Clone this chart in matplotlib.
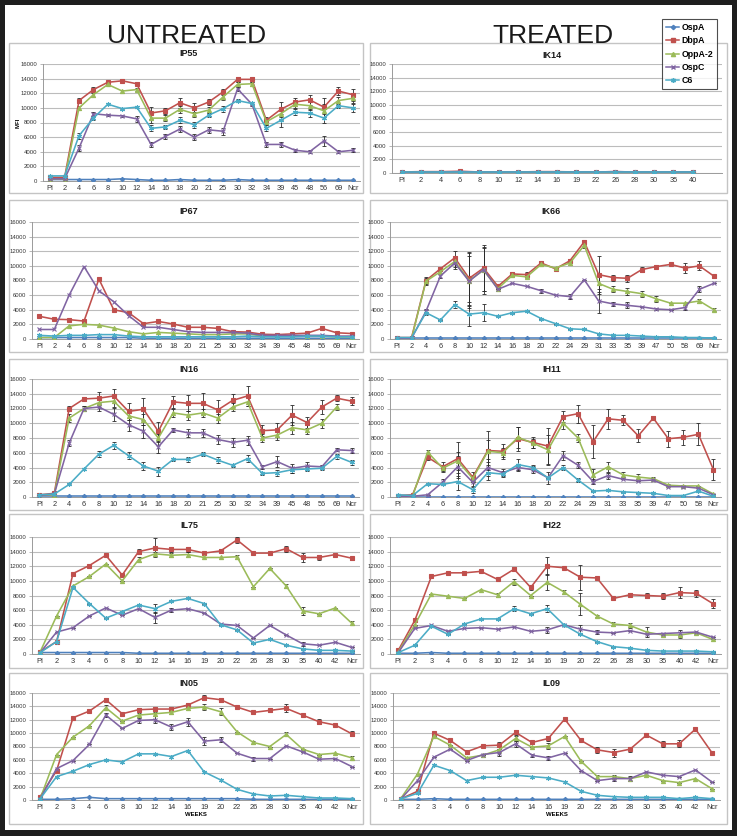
import numpy as np
import matplotlib
matplotlib.use("Agg")
import matplotlib.pyplot as plt
from matplotlib.patches import Rectangle
from matplotlib.lines import Line2D

plt.rcParams['font.family'] = ['Liberation Sans', 'DejaVu Sans']

SERIES = ["OspA", "DbpA", "OppA-2", "OspC", "C6"]
COLORS = ["#4F81BD", "#C0504D", "#9BBB59", "#8064A2", "#4BACC6"]

# ---------------- categories ----------------
weeks_A = ["PI", "2", "4", "6", "8", "10", "12", "14", "16", "18", "20", "21", "25", "30", "32", "34", "39", "45", "48", "56", "69", "Ncr"]
weeks_K14 = ["PI", "2", "4", "6", "8", "10", "12", "14", "16", "19", "22", "26", "28", "30", "35", "40"]
weeks_K66 = ["PI", "2", "4", "6", "8", "10", "12", "14", "16", "18", "20", "22", "24", "29", "31", "33", "35", "39", "47", "50", "58", "69", "Ncr"]
weeks_H11 = ["PI", "2", "4", "6", "8", "10", "12", "14", "16", "18", "20", "22", "24", "29", "31", "33", "35", "39", "47", "50", "58", "Ncr"]
weeks_B = ["PI", "2", "3", "4", "6", "8", "10", "12", "14", "16", "19", "20", "22", "26", "28", "30", "35", "40", "42", "Ncr"]

nan = np.nan

# ---------------- IP55 ----------------
IP55_OspA = [200, 200, 200, 200, 200, 300, 200, 100, 100, 200, 100, 100, 100, 200, 100, 100, 100, 100, 100, 100, 100, 100]
IP55_DbpA = [500, 500, 11000, 12500, 13500, 13700, 13300, 9300, 9600, 10700, 10000, 10800, 12200, 13900, 13900, 8300, 9800, 10800, 11100, 10100, 12300, 11800]
IP55_OppA = [300, 300, 10000, 11800, 13200, 12300, 12500, 8600, 8600, 9800, 9200, 9700, 11500, 13200, 13300, 8100, 9200, 10500, 10300, 9600, 11000, 11300]
IP55_OspC = [300, 300, 4500, 9200, 9000, 8900, 8500, 5000, 6100, 7100, 6000, 7000, 6800, 12600, 10500, 5000, 5000, 4200, 4000, 5500, 4000, 4200]
IP55_C6 = [700, 700, 6200, 8600, 10500, 9900, 10100, 7200, 7400, 8300, 7700, 9000, 9900, 11000, 10600, 7200, 8300, 9400, 9300, 8600, 10300, 10000]
IP55_DbpA_err = [100, 100, 300, 300, 200, 200, 200, 800, 400, 700, 600, 400, 400, 300, 300, 500, 1000, 500, 700, 1300, 500, 800]
IP55_OppA_err = [0, 0, 300, 300, 200, 200, 200, 600, 400, 500, 500, 400, 400, 300, 300, 400, 800, 500, 600, 900, 500, 700]
IP55_OspC_err = [0, 0, 400, 300, 100, 100, 400, 400, 300, 400, 400, 400, 500, 300, 300, 400, 400, 200, 200, 700, 200, 300]
IP55_C6_err = [100, 100, 400, 300, 100, 100, 100, 400, 300, 400, 400, 300, 400, 200, 200, 400, 900, 400, 500, 600, 300, 500]

# ---------------- IP67 ----------------
IP67_OspA = [200, 200, 200, 200, 200, 200, 200, 100, 100, 100, 100, 100, 100, 100, 100, 100, 100, 100, 100, 100, 100, 100]
IP67_DbpA = [3100, 2700, 2650, 2450, 8200, 4000, 3600, 2100, 2400, 2050, 1600, 1600, 1450, 1000, 950, 650, 600, 700, 800, 1450, 850, 750]
IP67_OppA = [200, 200, 1800, 2000, 1900, 1500, 1000, 700, 900, 800, 700, 600, 600, 700, 700, 400, 400, 400, 400, 400, 300, 300]
IP67_OspC = [1300, 1300, 6000, 9900, 6600, 5100, 3200, 1600, 1600, 1300, 1000, 900, 900, 900, 800, 500, 500, 500, 500, 500, 400, 400]
IP67_C6 = [500, 400, 500, 500, 600, 600, 400, 300, 300, 300, 300, 300, 300, 300, 400, 300, 300, 300, 400, 400, 300, 300]

# ---------------- IN16 ----------------
IN16_OspA = [100, 100, 100, 100, 100, 100, 100, 100, 100, 100, 100, 100, 100, 100, 100, 100, 100, 100, 100, 100, 100, 100]
IN16_DbpA = [300, 500, 12000, 13300, 13400, 13700, 11600, 11900, 8900, 12900, 12700, 12700, 11800, 13100, 13700, 9000, 9100, 11100, 10100, 12200, 13400, 13000]
IN16_OppA = [200, 300, 10700, 12000, 12800, 13000, 11000, 10500, 8000, 11400, 11100, 11400, 10700, 12200, 12900, 8000, 8400, 9400, 9100, 10000, 12200, nan]
IN16_OspC = [200, 400, 7300, 12000, 12200, 11200, 9800, 8900, 6800, 9100, 8700, 8700, 7800, 7400, 7700, 4100, 4800, 3900, 4200, 4100, 6400, 6300]
IN16_C6 = [300, 400, 1700, 3800, 5800, 7000, 5600, 4200, 3500, 5100, 5100, 5800, 5000, 4300, 5200, 3200, 3300, 3700, 3800, 3900, 5500, 4700]
IN16_DbpA_err = [100, 100, 300, 300, 800, 900, 1100, 1500, 1300, 800, 1100, 1400, 1300, 900, 1300, 700, 900, 1400, 700, 900, 400, 500]
IN16_OppA_err = [0, 0, 500, 400, 600, 800, 600, 700, 600, 600, 600, 600, 600, 600, 600, 500, 700, 800, 600, 600, 400, 0]
IN16_OspC_err = [0, 100, 400, 400, 500, 900, 900, 900, 900, 300, 500, 500, 600, 600, 600, 300, 700, 600, 600, 300, 200, 400]
IN16_C6_err = [0, 0, 100, 200, 400, 500, 500, 500, 600, 200, 300, 300, 400, 200, 500, 200, 400, 400, 300, 300, 300, 300]

# ---------------- IL75 ----------------
IL75_OspA = [200, 200, 200, 200, 200, 200, 100, 100, 100, 100, 100, 100, 100, 100, 100, 100, 100, 100, 100, 100]
IL75_DbpA = [300, 1700, 11000, 12100, 13500, 10800, 14000, 14500, 14300, 14300, 13800, 14100, 15600, 13800, 13800, 14400, 13200, 13200, 13600, 13100]
IL75_OppA = [300, 5200, 9300, 10600, 12300, 10000, 12900, 13700, 13500, 13600, 13200, 13200, 13300, 9200, 11700, 9300, 5900, 5500, 6300, 4200]
IL75_OspC = [200, 3000, 3600, 5200, 6300, 5300, 6200, 5000, 6000, 6200, 5600, 4100, 3900, 2200, 3900, 2600, 1400, 1200, 1600, 900]
IL75_C6 = [200, 1700, 9100, 6900, 4900, 5800, 6700, 6200, 7200, 7600, 6900, 4000, 3300, 1500, 2000, 1200, 700, 500, 500, 400]
IL75_DbpA_err = [0, 0, 0, 0, 0, 0, 300, 1300, 400, 300, 0, 200, 400, 0, 0, 400, 600, 400, 0, 200]
IL75_OppA_err = [0, 0, 0, 0, 0, 0, 300, 300, 300, 300, 0, 0, 300, 0, 0, 300, 500, 0, 0, 300]
IL75_OspC_err = [0, 0, 0, 0, 0, 0, 0, 800, 300, 0, 0, 0, 0, 0, 0, 0, 300, 0, 0, 0]
IL75_C6_err = [0, 0, 0, 0, 0, 0, 0, 600, 0, 0, 0, 0, 0, 0, 0, 0, 0, 0, 0, 0]

# ---------------- IN05 ----------------
IN05_OspA = [100, 100, 200, 400, 200, 200, 200, 200, 200, 200, 200, 200, 200, 100, 100, 100, 100, 100, 100, 100]
IN05_DbpA = [500, 4400, 12300, 13300, 15000, 12900, 13500, 13600, 13600, 14200, 15300, 15000, 13900, 13100, 13400, 13700, 12700, 11700, 11200, 9900]
IN05_OppA = [200, 6800, 9400, 11100, 13800, 11800, 12700, 12900, 13100, 13700, 13900, 13200, 10200, 8600, 8000, 9800, 7600, 6800, 7000, 6300]
IN05_OspC = [200, 4700, 5900, 8300, 12700, 10700, 11900, 12000, 10900, 11700, 8800, 9000, 7000, 6200, 6200, 8100, 7200, 6100, 6200, 5000]
IN05_C6 = [200, 3500, 4300, 5300, 6000, 5700, 6900, 6900, 6500, 7400, 4200, 3000, 1600, 900, 600, 700, 500, 300, 300, 200]
IN05_DbpA_err = [0, 0, 0, 0, 300, 0, 200, 300, 300, 300, 400, 300, 200, 0, 200, 600, 0, 400, 0, 400]
IN05_OppA_err = [0, 0, 0, 0, 400, 0, 300, 300, 300, 300, 400, 500, 0, 200, 0, 300, 0, 0, 0, 300]
IN05_OspC_err = [0, 0, 0, 0, 300, 0, 400, 500, 500, 600, 600, 400, 0, 300, 0, 0, 0, 0, 0, 0]

# ---------------- IK14 ----------------
IK14_OspA = [100, 100, 100, 100, 100, 100, 100, 100, 100, 100, 100, 100, 100, 100, 100, 100]
IK14_DbpA = [150, 200, 200, 250, 150, 150, 150, 200, 200, 150, 150, 200, 150, 150, 150, 150]
IK14_OppA = [100, 150, 150, 150, 100, 100, 100, 150, 150, 100, 100, 150, 100, 100, 100, 100]
IK14_OspC = [100, 150, 150, 200, 150, 150, 150, 150, 150, 150, 150, 200, 150, 150, 150, 150]
IK14_C6 = [100, 100, 100, 100, 100, 100, 100, 100, 100, 100, 100, 100, 100, 100, 100, 100]

# ---------------- IK66 ----------------
IK66_OspA = [100, 100, 100, 100, 100, 100, 100, 100, 100, 100, 100, 100, 100, 100, 100, 100, 100, 100, 100, 100, 100, 100, 100]
IK66_DbpA = [200, 200, 8000, 9600, 11100, 8300, 9700, 7200, 8900, 8800, 10400, 9600, 10700, 13300, 8800, 8400, 8300, 9500, 9900, 10200, 9700, 10000, 8600]
IK66_OppA = [100, 100, 7900, 9200, 10600, 8000, 9400, 6900, 8700, 8500, 10200, 9700, 10400, 12800, 7600, 6800, 6500, 6200, 5500, 4900, 4900, 5200, 4000]
IK66_OspC = [100, 100, 3800, 8600, 10400, 7900, 9500, 6800, 7600, 7200, 6600, 6000, 5800, 8100, 5200, 4800, 4600, 4400, 4100, 4000, 4300, 6800, 7600]
IK66_C6 = [200, 200, 3600, 2600, 4700, 3400, 3600, 3100, 3600, 3800, 2800, 2100, 1400, 1300, 700, 500, 500, 400, 300, 300, 200, 200, 100]
IK66_DbpA_err = [0, 0, 500, 300, 900, 3600, 3100, 300, 200, 300, 200, 200, 300, 300, 2600, 400, 500, 300, 200, 0, 700, 600, 200]
IK66_OppA_err = [0, 0, 500, 300, 800, 3700, 3200, 300, 200, 200, 200, 200, 300, 300, 1200, 400, 500, 400, 400, 0, 0, 300, 200]
IK66_OspC_err = [0, 0, 300, 300, 800, 3400, 3000, 0, 0, 0, 300, 0, 300, 0, 1600, 300, 400, 0, 200, 0, 300, 400, 0]
IK66_C6_err = [0, 0, 300, 0, 500, 1600, 1200, 0, 0, 0, 0, 0, 0, 0, 0, 0, 0, 0, 0, 0, 0, 0, 0]

# ---------------- IH11 ----------------
IH11_OspA = [50, 50, 50, 50, 50, 50, 50, 50, 50, 50, 50, 50, 50, 50, 50, 50, 50, 50, 50, 50, 50, 50]
IH11_DbpA = [200, 300, 5400, 4100, 5200, 2700, 6300, 6200, 7900, 7400, 6900, 10900, 11300, 7500, 10600, 10400, 8300, 10700, 7900, 8100, 8500, 3700]
IH11_OppA = [100, 100, 6100, 3900, 4900, 2500, 6200, 6000, 8100, 7300, 6400, 10000, 8000, 3000, 4100, 3000, 2700, 2500, 1600, 1500, 1500, 400]
IH11_OspC = [100, 100, 300, 2000, 4100, 2000, 4000, 3300, 4000, 3700, 2600, 5600, 4300, 2100, 2900, 2400, 2200, 2300, 1400, 1400, 1200, 300]
IH11_C6 = [300, 200, 1800, 1700, 2100, 1000, 3300, 3100, 4400, 4000, 2600, 4000, 2300, 800, 900, 700, 600, 500, 200, 200, 800, 100]
IH11_DbpA_err = [0, 100, 400, 600, 2300, 700, 2600, 1000, 1600, 700, 2400, 700, 1200, 2200, 1400, 700, 900, 300, 1100, 1000, 1500, 1400]
IH11_OppA_err = [0, 0, 300, 500, 1200, 500, 1500, 600, 1400, 600, 2000, 800, 600, 800, 700, 400, 400, 200, 200, 0, 0, 0]
IH11_OspC_err = [0, 0, 0, 400, 1500, 500, 1200, 500, 500, 500, 800, 600, 400, 300, 400, 0, 0, 0, 0, 0, 0, 0]
IH11_C6_err = [0, 0, 0, 0, 1100, 400, 1000, 400, 800, 400, 0, 400, 300, 0, 0, 0, 0, 0, 0, 0, 0, 0]

# ---------------- IH22 ----------------
IH22_OspA = [100, 100, 200, 100, 100, 100, 100, 100, 100, 100, 100, 100, 100, 100, 100, 100, 100, 100, 100, 100]
IH22_DbpA = [500, 4600, 10600, 11100, 11100, 11300, 10200, 11600, 9100, 12000, 11800, 10500, 10400, 7600, 8100, 8000, 7900, 8400, 8300, 6900]
IH22_OppA = [300, 4000, 8200, 7900, 7600, 8800, 8100, 9900, 8000, 9800, 8500, 6800, 5200, 4100, 3900, 3000, 2600, 2600, 2900, 2000]
IH22_OspC = [200, 3500, 3900, 3100, 3500, 3600, 3400, 3700, 3100, 3300, 4000, 3400, 3000, 2900, 3200, 2700, 2800, 2900, 3000, 2300]
IH22_C6 = [200, 1200, 3800, 2700, 4100, 4800, 4800, 6200, 5500, 6200, 4000, 2700, 1700, 1000, 800, 500, 400, 400, 400, 300]
IH22_DbpA_err = [0, 0, 0, 0, 0, 0, 0, 300, 300, 1200, 0, 1700, 0, 0, 200, 400, 400, 800, 500, 600]
IH22_OppA_err = [0, 0, 0, 0, 0, 0, 300, 400, 0, 1100, 300, 1500, 200, 300, 300, 700, 0, 400, 0, 0]
IH22_OspC_err = [0, 0, 0, 0, 0, 0, 0, 0, 0, 400, 0, 500, 300, 0, 0, 0, 0, 400, 0, 0]
IH22_C6_err = [0, 0, 0, 0, 0, 0, 0, 300, 0, 500, 0, 0, 0, 0, 0, 0, 0, 0, 0, 0]

# ---------------- IL09 ----------------
IL09_OspA = [100, 100, 200, 100, 100, 100, 100, 100, 100, 100, 100, 100, 100, 100, 100, 100, 100, 100, 100, 100]
IL09_DbpA = [200, 1300, 10000, 8900, 7200, 8100, 8200, 10100, 8600, 9200, 12100, 8900, 7500, 7100, 7600, 9700, 8400, 8400, 10600, 7100]
IL09_OppA = [300, 3900, 9500, 8200, 6300, 6700, 7500, 9200, 7900, 8100, 9500, 5800, 3500, 3500, 3200, 3700, 2900, 2600, 3200, 1700]
IL09_OspC = [200, 2900, 6400, 7600, 5900, 6800, 7100, 8400, 6700, 6300, 7000, 4400, 2900, 3200, 3200, 4200, 3700, 3500, 4500, 2700]
IL09_C6 = [200, 1000, 5200, 4400, 2900, 3400, 3400, 3700, 3500, 3300, 2700, 1300, 700, 500, 400, 400, 400, 200, 400, 200]
IL09_DbpA_err = [0, 0, 0, 0, 0, 0, 500, 400, 200, 400, 0, 0, 400, 600, 400, 300, 400, 500, 0, 0]
IL09_OppA_err = [0, 0, 0, 0, 0, 0, 400, 400, 0, 400, 0, 0, 300, 300, 300, 0, 0, 0, 0, 0]
IL09_OspC_err = [0, 0, 0, 0, 0, 0, 500, 400, 200, 300, 0, 0, 0, 400, 400, 0, 0, 0, 0, 0]

W, H = 737, 836
fig = plt.figure(figsize=(W / 100, H / 100), dpi=100)
fig.patch.set_facecolor("white")


def fx(x):
    return x / W


def fy(y):
    return 1 - y / H


# outer dark frame
for (x0, y0, w, h) in [(0, 0, W, 5), (0, H - 6, W, 6), (0, 0, 5, H), (W - 5, 0, 5, H)]:
    fig.patches.append(Rectangle((fx(x0), fy(y0 + h)), w / W, h / H, transform=fig.transFigure,
                                 facecolor="#1e1e1e", edgecolor="none", zorder=0))

fig.text(fx(187), fy(36), "UNTREATED", ha="center", va="center", fontsize=19, color="#1a1a1a")
fig.text(fx(553), fy(36), "TREATED", ha="center", va="center", fontsize=19, color="#1a1a1a")

# panel spec: name, categories, series, errors, box(x0,x1,y0,y1), plot(l,r,top,bottom), title_y, nslots, mfi, weeks
panels = [
    ("IP55", weeks_A, [IP55_OspA, IP55_DbpA, IP55_OppA, IP55_OspC, IP55_C6],
     [None, IP55_DbpA_err, IP55_OppA_err, IP55_OspC_err, IP55_C6_err],
     (9, 363, 43, 193), (43, 360, 64, 181), 54, None, True, False),
    ("IP67", weeks_A, [IP67_OspA, IP67_DbpA, IP67_OppA, IP67_OspC, IP67_C6],
     [None] * 5, (9, 363, 200, 352), (32, 359, 222, 339), 211, None, False, False),
    ("IN16", weeks_A, [IN16_OspA, IN16_DbpA, IN16_OppA, IN16_OspC, IN16_C6],
     [None, IN16_DbpA_err, IN16_OppA_err, IN16_OspC_err, IN16_C6_err],
     (9, 363, 359, 510), (32, 359, 379, 497), 369, None, False, False),
    ("IL75", weeks_B, [IL75_OspA, IL75_DbpA, IL75_OppA, IL75_OspC, IL75_C6],
     [None, IL75_DbpA_err, IL75_OppA_err, IL75_OspC_err, IL75_C6_err],
     (9, 363, 514, 668), (32, 360, 537, 654), 526, None, False, False),
    ("IN05", weeks_B, [IN05_OspA, IN05_DbpA, IN05_OppA, IN05_OspC, IN05_C6],
     [None, IN05_DbpA_err, IN05_OppA_err, IN05_OspC_err, None],
     (9, 363, 673, 824), (32, 360, 693, 800), 683, None, False, True),
    ("IK14", weeks_K14, [IK14_OspA, IK14_DbpA, IK14_OppA, IK14_OspC, IK14_C6],
     [None] * 5, (370, 727, 43, 193), (392, 722, 64, 173), 55, 17, False, False),
    ("IK66", weeks_K66, [IK66_OspA, IK66_DbpA, IK66_OppA, IK66_OspC, IK66_C6],
     [None, IK66_DbpA_err, IK66_OppA_err, IK66_OspC_err, IK66_C6_err],
     (370, 727, 200, 352), (390, 721, 222, 339), 211, None, False, False),
    ("IH11", weeks_H11, [IH11_OspA, IH11_DbpA, IH11_OppA, IH11_OspC, IH11_C6],
     [None, IH11_DbpA_err, IH11_OppA_err, IH11_OspC_err, IH11_C6_err],
     (370, 727, 359, 510), (390, 721, 379, 497), 369, None, False, False),
    ("IH22", weeks_B, [IH22_OspA, IH22_DbpA, IH22_OppA, IH22_OspC, IH22_C6],
     [None, IH22_DbpA_err, IH22_OppA_err, IH22_OspC_err, IH22_C6_err],
     (370, 727, 514, 668), (390, 721, 537, 654), 526, None, False, False),
    ("IL09", weeks_B, [IL09_OspA, IL09_DbpA, IL09_OppA, IL09_OspC, IL09_C6],
     [None, IL09_DbpA_err, IL09_OppA_err, IL09_OspC_err, None],
     (370, 727, 673, 824), (393, 720, 693, 800), 683, None, False, True),
]

MARKERS = ["D", "s", "^", "x", (6, 2, 0)]
MSIZES = [2.2, 2.8, 3.0, 3.2, 3.6]

for (name, cats, data, errs, box, plot, ty, nslots, mfi, weeks) in panels:
    bx0, bx1, by0, by1 = box
    fig.patches.append(Rectangle((fx(bx0), fy(by1)), (bx1 - bx0) / W, (by1 - by0) / H,
                                 transform=fig.transFigure, facecolor="white",
                                 edgecolor="#c4c4c4", lw=1.0, zorder=0.5))
    l, r, t, b = plot
    ax = fig.add_axes([fx(l), fy(b), (r - l) / W, (b - t) / H])
    ax.set_zorder(2)
    ax.set_facecolor("none")
    n = len(cats)
    slots = nslots if nslots else n
    x = np.arange(n)
    for i, (vals, col) in enumerate(zip(data, COLORS)):
        ax.plot(x, vals, color=col, lw=1.15, marker=MARKERS[i], ms=MSIZES[i],
                mec=col, mfc=col, mew=0.8, zorder=3 + i * 0.1)
        if errs[i] is not None:
            ax.errorbar(x, vals, yerr=errs[i], fmt="none", ecolor="#2a2a2a",
                        elinewidth=0.6, capsize=1.3, capthick=0.6, zorder=2.5)
    ax.set_xlim(-0.5, slots - 0.5)
    ax.set_ylim(0, 16000)
    ax.set_yticks(np.arange(0, 16001, 2000))
    ax.set_xticks(x)
    ax.set_xticklabels(cats)
    ax.yaxis.grid(True, color="#bcbcbc", lw=0.8)
    ax.set_axisbelow(True)
    for s in ["top", "right"]:
        ax.spines[s].set_visible(False)
    ax.spines["left"].set_color("#9a9a9a")
    ax.spines["bottom"].set_color("#9a9a9a")
    ax.spines["left"].set_linewidth(0.7)
    ax.spines["bottom"].set_linewidth(0.7)
    ax.tick_params(axis="y", labelsize=4.3, length=2, width=0.5, color="#9a9a9a", pad=2,
                   labelcolor="#333333")
    ax.tick_params(axis="x", labelsize=5.3, length=0, pad=3, labelcolor="#333333")
    fig.text(fx((bx0 + bx1) / 2 + 3), fy(ty), name, ha="center", va="center",
             fontsize=6.5, fontweight="bold", color="#1a1a1a")
    if mfi:
        fig.text(fx(18), fy((t + b) / 2), "MFI", rotation=90, ha="center", va="center",
                 fontsize=4.3, fontweight="bold")
    if weeks:
        fig.text(fx((l + r) / 2), fy(815), "WEEKS", ha="center", va="center",
                 fontsize=4.3, fontweight="bold")

# legend
handles = [Line2D([0], [0], color=c, lw=1.1, marker=m, ms=ms, mfc=c, mec=c)
           for c, m, ms in zip(COLORS, MARKERS, MSIZES)]
leg = fig.legend(handles, SERIES, loc="upper left",
                 bbox_to_anchor=(fx(662), fy(19)), bbox_transform=fig.transFigure,
                 prop={"size": 6.3, "weight": "bold"}, frameon=True, fancybox=False,
                 edgecolor="#222222", handlelength=1.5, handletextpad=0.3,
                 labelspacing=0.5, borderpad=0.45, borderaxespad=0)
leg.get_frame().set_linewidth(0.8)
leg.set_zorder(20)

fig.savefig("out.png", dpi=100, facecolor="white")
